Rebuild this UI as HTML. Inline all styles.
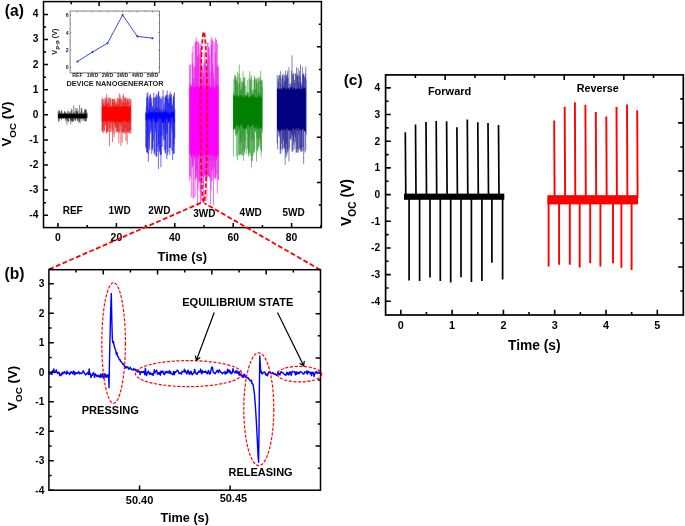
<!DOCTYPE html>
<html><head><meta charset="utf-8"><title>Figure</title>
<style>html,body{margin:0;padding:0;background:#fff}svg{display:block}</style></head>
<body><svg width="685" height="526" viewBox="0 0 685 526">
<rect width="685" height="526" fill="#fff"/>
<g id="panelA">
<path d="M58.2 110.47V118.61M58.62 113.1V121.58M59.04 111.55V121.58M59.46 110.27V118.52M59.88 111.17V118.14M60.3 113.34V118.34M60.72 112.75V118.6M61.14 113.93V119.03M61.56 109.97V120.22M61.98 111.39V118.07M62.4 114.05V118.19M62.82 112.75V118.07M63.24 113.18V118.22M63.66 113.44V118.65M64.08 113.64V118.13M64.5 110.93V118.15M64.92 111.57V118.06M65.34 112.23V119.58M65.76 113.11V121.37M66.18 113.22V119.31M66.6 112.98V119.23M67.02 113.83V124.79M67.44 111.26V121.09M67.86 113.56V118.06M68.28 110.79V121.79M68.7 113.99V121.8M69.12 113.25V118.34M69.54 112.49V118.13M69.96 112.53V118.73M70.38 111.16V120.89M70.8 113.77V124.38M71.22 113.95V120.36M71.64 108.57V121.53M72.06 110.17V119.69M72.48 113.99V122.17M72.9 112.87V121.22M73.32 113.84V121.45M73.74 105.46V118.9M74.16 114.05V120.55M74.58 111.49V119.16M75 113.66V118.16M75.42 113.88V121.41M75.84 107.97V120.04M76.26 110.82V118.07M76.68 111.05V118.18M77.1 108.16V118.11M77.52 112.07V120.87M77.94 110.31V121.15M78.36 113.37V119.32M78.78 114.05V122.45M79.2 113.46V118.07M79.62 104.95V121.85M80.04 112.78V123.39M80.46 112.56V118.87M80.88 113.91V118.23M81.3 108.02V119.28M81.72 108.33V118.3M82.14 111.35V121.16M82.56 113.11V119.08M82.98 114.05V118.07M83.4 114.04V119.25M83.82 111.75V120.53M84.24 113.28V118.07M84.66 109.39V121.45M85.08 110.49V118.78M85.5 108.82V121.01M85.92 109.95V120.81M86.34 109.85V121.58M86.76 113.98V118.1M87.18 112.52V118.07" fill="none" stroke="#000" stroke-width="0.5"/>
<polygon points="58,114.22 58.7,113.71 59.4,113.93 60.1,113.8 60.8,114.25 61.5,113.66 62.2,113.72 62.9,113.97 63.6,114.14 64.3,113.6 65,114.31 65.7,113.57 66.4,114.15 67.1,114.3 67.8,113.98 68.5,114.14 69.2,114.15 69.9,114.1 70.6,113.66 71.3,113.81 72,113.53 72.7,114.23 73.4,113.75 74.1,113.58 74.8,113.66 75.5,114.08 76.2,113.62 76.9,113.92 77.6,114.3 78.3,113.69 79,114.19 79.7,113.76 80.4,114.03 81.1,113.92 81.8,113.91 82.5,113.93 83.2,114.29 83.9,113.54 84.6,114.01 85.3,113.92 86,113.71 86.7,113.64 86.7,117.98 86,118.2 85.3,118.51 84.6,117.94 83.9,118.23 83.2,118.31 82.5,117.84 81.8,118.09 81.1,118.36 80.4,118.13 79.7,118.29 79,118.2 78.3,118.11 77.6,117.99 76.9,118.23 76.2,118.41 75.5,118.23 74.8,118.29 74.1,118.11 73.4,118.32 72.7,118.05 72,118.42 71.3,117.95 70.6,118.21 69.9,117.83 69.2,118.14 68.5,117.98 67.8,118.17 67.1,117.97 66.4,118.11 65.7,118.08 65,118.2 64.3,117.84 63.6,118.48 62.9,118.32 62.2,117.82 61.5,118.12 60.8,117.84 60.1,118.37 59.4,118.13 58.7,118 58,118.41" fill="#000"/>
<path d="M102 97.41V131.11M102.42 99.34V131.7M102.84 102.72V131.73M103.26 99.38V133.3M103.68 104.14V129.03M104.1 98.67V129.77M104.52 105.06V131.44M104.94 101.16V121.46M105.36 97.61V124.88M105.78 98.23V124.8M106.2 103.38V133.37M106.62 93.93V133.26M107.04 99.46V131.96M107.46 103.39V131.34M107.88 99.06V131.39M108.3 97.04V132.31M108.72 102.4V121.6M109.14 105.84V128.54M109.56 97.66V146.09M109.98 103.42V127.97M110.4 98.09V131.77M110.82 98.74V121.39M111.24 106.23V131.71M111.66 105.67V123.37M112.08 98.89V128.63M112.5 99.13V142.13M112.92 98.78V131.08M113.34 102.69V121.99M113.76 99.12V133.97M114.18 99.3V137.28M114.6 101.22V124.42M115.02 98.4V126.2M115.44 103.05V127.94M115.86 104.82V132.5M116.28 100.57V127.72M116.7 103.25V132.23M117.12 106.15V131.36M117.54 97.71V131M117.96 98.15V132.57M118.38 103.31V131.81M118.8 98.86V143.23M119.22 93.38V123.54M119.64 99.38V133.17M120.06 95.06V131.23M120.48 98.26V125.77M120.9 106.43V146M121.32 99.69V123.54M121.74 98.38V132.65M122.16 102.55V142.52M122.58 102.77V131.77M123 95.86V132.26M123.42 93.74V131.39M123.84 99.92V133.84M124.26 102.83V132.26M124.68 97.77V132.48M125.1 96.64V133.1M125.52 97.97V128.36M125.94 101.39V140.79M126.36 103.24V133.85M126.78 98.06V132.61M127.2 98.55V144.42M127.62 100V131.58M128.04 98.6V130.75M128.46 101.9V131.76M128.88 98.88V132.93M129.3 107V133.69M129.72 98.2V133.16M130.14 104.96V131.01M130.56 100.58V130.04M130.98 99.03V133.53" fill="none" stroke="#e01010" stroke-width="0.6"/>
<polygon points="101.8,105.95 102.5,107.53 103.2,106.17 103.9,106.46 104.6,106.57 105.3,106.61 106,106.88 106.7,106.36 107.4,105.97 108.1,106.85 108.8,107.57 109.5,106.82 110.2,106.97 110.9,106.71 111.6,107.22 112.3,107.06 113,106.74 113.7,106.45 114.4,106.06 115.1,106.34 115.8,106.29 116.5,107.01 117.2,105.94 117.9,106.31 118.6,106.82 119.3,106.77 120,106.75 120.7,107.01 121.4,106.05 122.1,106.64 122.8,106.36 123.5,107.24 124.2,106.4 124.9,106.04 125.6,106.03 126.3,105.95 127,106.75 127.7,106.49 128.4,107.09 129.1,106.73 129.8,106.54 130.5,106.19 130.5,122 129.8,120.4 129.1,122.51 128.4,120.73 127.7,121.66 127,121.49 126.3,121.95 125.6,120.98 124.9,120.87 124.2,120.62 123.5,121.01 122.8,121.41 122.1,122.48 121.4,121.35 120.7,122.39 120,122.26 119.3,122.49 118.6,121.52 117.9,121.97 117.2,120.61 116.5,122.63 115.8,122.16 115.1,122.44 114.4,122.17 113.7,120.66 113,122.67 112.3,120.55 111.6,120.27 110.9,121.59 110.2,122.41 109.5,121 108.8,120.28 108.1,120.87 107.4,121.55 106.7,122.66 106,121.18 105.3,120.6 104.6,121.71 103.9,120.97 103.2,122.02 102.5,120.42 101.8,122.55" fill="#f00"/>
<path d="M145.8 112.2V147.23M146.22 106.46V148.41M146.64 97.62V152.36M147.06 93.1V151.86M147.48 95.69V152.81M147.9 92.3V153.76M148.32 108.4V161.88M148.74 98.58V138.12M149.16 102.54V147.5M149.58 96.33V150.27M150 94.98V120.42M150.42 93.87V133.64M150.84 97.05V128.6M151.26 102.93V130.84M151.68 98.5V153.9M152.1 109.79V149.19M152.52 105.96V147.89M152.94 107.81V151.09M153.36 97.8V140.7M153.78 92.65V122.26M154.2 97.69V154.88M154.62 108.8V153.02M155.04 96.93V127.89M155.46 97.29V132.24M155.88 106.43V155.82M156.3 96.11V156.29M156.72 93.93V156.8M157.14 94.5V151.85M157.56 107.68V120.64M157.98 97.22V147.36M158.4 91.09V169.15M158.82 91.86V144.25M159.24 108.42V151.91M159.66 96.2V150.17M160.08 97.74V154.35M160.5 110.22V154.68M160.92 99.12V167.33M161.34 98.6V155.11M161.76 108.93V136.2M162.18 96.3V146.95M162.6 111.4V120.65M163.02 89.98V135.29M163.44 108.16V140.58M163.86 96.85V129.15M164.28 103.7V150.54M164.7 110.54V139.01M165.12 96.75V152.84M165.54 96.79V153.6M165.96 95.2V149.25M166.38 95.2V132.52M166.8 94.28V159.28M167.22 90.42V133.92M167.64 98.7V155.35M168.06 95.33V152.28M168.48 103.08V122.97M168.9 98.42V121.59M169.32 94.21V147.88M169.74 98.09V154.86M170.16 91.84V147.27M170.58 96.11V147.94M171 94.01V129M171.42 94.54V124.14M171.84 102.54V150.66M172.26 106.67V132.29M172.68 104.74V159.95M173.1 97.84V154.1M173.52 96.08V153.03M173.94 94.36V144.35M174.36 92.24V153.75M174.78 109V138.32" fill="none" stroke="#0808e6" stroke-width="0.6"/>
<polygon points="145.6,113.7 146.3,113.22 147,112.28 147.7,114.53 148.4,113.63 149.1,110.93 149.8,111.51 150.5,112.23 151.2,112.25 151.9,112.66 152.6,112.12 153.3,111.8 154,113.47 154.7,111.4 155.4,111.94 156.1,111.96 156.8,113.13 157.5,112.95 158.2,111.36 158.9,114.08 159.6,111.04 160.3,112.28 161,112.72 161.7,113.29 162.4,112.44 163.1,112.08 163.8,111.44 164.5,112.12 165.2,111.42 165.9,111.26 166.6,111.96 167.3,111.53 168,113.53 168.7,111.45 169.4,114.25 170.1,113.07 170.8,113.5 171.5,111.38 172.2,112.32 172.9,111.94 173.6,111.35 174.3,112.72 174.3,123.37 173.6,123.25 172.9,118.68 172.2,116.67 171.5,116.67 170.8,121.76 170.1,117.42 169.4,121.98 168.7,123.31 168,116.8 167.3,120.39 166.6,117.84 165.9,120.36 165.2,123.14 164.5,117.5 163.8,123.32 163.1,122.88 162.4,122.71 161.7,120.47 161,119.07 160.3,118.47 159.6,119.42 158.9,117.88 158.2,117.04 157.5,122.93 156.8,121.98 156.1,122.83 155.4,122.53 154.7,119.68 154,116.57 153.3,120.51 152.6,116.81 151.9,121.57 151.2,122.46 150.5,117.41 149.8,119.7 149.1,119.66 148.4,118 147.7,122.24 147,116.82 146.3,120.6 145.6,120.18" fill="#00f"/>
<path d="M189.6 64.86V180.58M190.02 83.74V175.96M190.44 64.37V155.11M190.86 84.23V177.5M191.28 85.82V197.22M191.7 86.6V158.5M192.12 52.96V166.43M192.54 63.41V167.43M192.96 46.16V198.28M193.38 78.55V164.66M193.8 66.29V198.67M194.22 82.29V159.42M194.64 66.81V155.92M195.06 43.15V196.79M195.48 41.63V180.09M195.9 67.6V176.6M196.32 37.52V170.77M196.74 41.82V178.62M197.16 41.1V177.94M197.58 56.02V205.91M198 57.68V189.48M198.42 41.41V158.47M198.84 43.08V181.33M199.26 87.65V183.08M199.68 54.2V180.35M200.1 43.42V191.9M200.52 47.9V203.24M200.94 64.75V155.57M201.36 44.57V200.61M201.78 79.72V178.58M202.2 67.65V175.62M202.62 65.71V177.15M203.04 76.67V188.19M203.46 73.28V198.93M203.88 62.58V175.49M204.3 51.46V175.58M204.72 62.97V176.61M205.14 84.69V177.33M205.56 62.27V175.08M205.98 75.21V179.89M206.4 67.72V175.89M206.82 69.52V200.92M207.24 42.38V177.66M207.66 62.22V176.43M208.08 42.32V175.99M208.5 47.18V175.94M208.92 84.81V176.24M209.34 46.96V177.41M209.76 55.13V178.3M210.18 72.42V161.65M210.6 87.36V204.07M211.02 39.21V190.55M211.44 44.44V181.4M211.86 36.91V170.63M212.28 40.16V180.67M212.7 65.27V169.24M213.12 40.82V159.95M213.54 73.13V205.05M213.96 78.79V176.96M214.38 87.48V167.71M214.8 42.29V178.71M215.22 52.74V179.34M215.64 37.59V177.16M216.06 82.21V178.09M216.48 39.66V160.14M216.9 64.74V174.34M217.32 43.48V193.56M217.74 67.18V155.52M218.16 85.29V179.85M218.58 66.27V180" fill="none" stroke="#ea08ea" stroke-width="0.6"/>
<polygon points="189.4,88.25 190.1,87.47 190.8,89.07 191.5,84.93 192.2,85.67 192.9,86.78 193.6,88.56 194.3,88.35 195,85.36 195.7,85.5 196.4,87.89 197.1,85.83 197.8,85.11 198.5,86.45 199.2,86.93 199.9,87.09 200.6,84.85 201.3,86.73 202,84.97 202.7,85.1 203.4,86.92 204.1,86.48 204.8,88.61 205.5,85.44 206.2,89.17 206.9,88.03 207.6,87.1 208.3,84.54 209,87.39 209.7,86.32 210.4,87.66 211.1,87.83 211.8,84.99 212.5,89.1 213.2,85.67 213.9,88.24 214.6,88.53 215.3,89.19 216,85.03 216.7,85.82 217.4,89.31 218.1,84.69 218.1,157.09 217.4,154.65 216.7,158.02 216,158 215.3,156.7 214.6,155.51 213.9,154.86 213.2,156.29 212.5,154.35 211.8,153.71 211.1,156.01 210.4,156.95 209.7,154.59 209,154.22 208.3,154.18 207.6,154.92 206.9,155.89 206.2,156.35 205.5,153.42 204.8,154.73 204.1,155.37 203.4,155.28 202.7,157.46 202,156.08 201.3,154.71 200.6,157.55 199.9,153.65 199.2,154.1 198.5,156.57 197.8,153.64 197.1,157.49 196.4,156.35 195.7,154.17 195,157.25 194.3,157.86 193.6,153.74 192.9,154.59 192.2,154.32 191.5,157.22 190.8,155.22 190.1,153.98 189.4,153.72" fill="#f0f"/>
<path d="M233.4 92.83V156.35M233.82 79.33V130.93M234.24 95.26V127.52M234.66 75.8V126.16M235.08 74.2V129.21M235.5 76.7V133.82M235.92 79.56V135.94M236.34 80.38V156.6M236.76 76.9V134.18M237.18 81.53V134.73M237.6 71.97V160.31M238.02 84.53V130.42M238.44 95.63V154.45M238.86 73.57V131.58M239.28 93.95V155.96M239.7 83.08V154.6M240.12 77.05V143.06M240.54 90.1V154.57M240.96 78.73V153.7M241.38 88.81V141.87M241.8 82.28V155.41M242.22 86.61V155.65M242.64 81.58V154.55M243.06 71.2V137.06M243.48 81.75V160.64M243.9 77.26V150.49M244.32 78V152.44M244.74 76.97V154.8M245.16 95.47V141.11M245.58 85.61V149.47M246 94.62V127.26M246.42 95.21V126.04M246.84 92.14V153.78M247.26 79.92V133.36M247.68 91.59V147.92M248.1 96.59V149.88M248.52 92.86V156.67M248.94 78.85V154.19M249.36 95.68V153.57M249.78 71.12V151.9M250.2 77.15V138.24M250.62 80.32V156.14M251.04 91.18V130.43M251.46 75.19V167.35M251.88 79.69V160.92M252.3 93.2V160.85M252.72 90.28V140.12M253.14 93.62V155.64M253.56 89.12V152.18M253.98 79.77V127.62M254.4 75.71V152.87M254.82 77.87V150.07M255.24 79.48V131.52M255.66 89.18V132.16M256.08 77.94V129.54M256.5 79.55V161.63M256.92 83.28V138.56M257.34 77.72V151.19M257.76 91.93V150.68M258.18 81.92V148.11M258.6 78.78V145.93M259.02 76.54V137.69M259.44 93V138.9M259.86 80.7V147.45M260.28 77.56V143.73M260.7 70.89V149.52M261.12 79.91V156.62M261.54 80.35V151.45M261.96 87.39V127.73M262.38 80.84V132.64" fill="none" stroke="#008000" stroke-width="0.5"/>
<polygon points="233.2,95.66 233.9,94.98 234.6,95.2 235.3,97.98 236,94.4 236.7,94.57 237.4,96.26 238.1,95.97 238.8,98.05 239.5,97 240.2,95.1 240.9,94.98 241.6,95.68 242.3,98.09 243,97.28 243.7,94.25 244.4,96.97 245.1,95.99 245.8,97.3 246.5,95.39 247.2,94.6 247.9,96.68 248.6,97.53 249.3,96.92 250,98.09 250.7,96.78 251.4,94.89 252.1,96.86 252.8,95.34 253.5,94.28 254.2,95.16 254.9,98.03 255.6,96.66 256.3,98.06 257,97.39 257.7,97.33 258.4,94.46 259.1,96.75 259.8,96.04 260.5,97.68 261.2,94.98 261.9,97.96 261.9,129.31 261.2,128.81 260.5,128.16 259.8,128.32 259.1,125.87 258.4,129.29 257.7,128.21 257,129.37 256.3,124.08 255.6,127.17 254.9,128.39 254.2,128.73 253.5,123.94 252.8,124.14 252.1,126.61 251.4,126.61 250.7,125.61 250,127.75 249.3,127.32 248.6,124.19 247.9,124.77 247.2,125.55 246.5,129.43 245.8,129.29 245.1,127.75 244.4,129.4 243.7,128.89 243,125.06 242.3,128.88 241.6,124.54 240.9,124.61 240.2,124.74 239.5,129.14 238.8,125.07 238.1,127.15 237.4,125.24 236.7,124.47 236,127.58 235.3,126.52 234.6,129.18 233.9,129.29 233.2,128.13" fill="#008000"/>
<path d="M277.2 75.05V143.34M277.62 88.71V149.42M278.04 78.49V128.97M278.46 82.01V132.36M278.88 75.64V135.64M279.3 74.66V137.17M279.72 88.22V133.35M280.14 75.84V153.92M280.56 71.19V149.77M280.98 83.68V153.7M281.4 89.19V129.28M281.82 78.68V143.71M282.24 75.42V148.13M282.66 75.24V150.42M283.08 73.84V137.03M283.5 85.57V141.09M283.92 76.56V148.35M284.34 81.04V149.2M284.76 74.3V147.11M285.18 81.52V164.74M285.6 70.46V152.77M286.02 75.32V157.62M286.44 75.33V143.53M286.86 78.17V155.52M287.28 73.65V149.51M287.7 70.67V152.67M288.12 77.86V151.14M288.54 87.9V129.23M288.96 67.22V161.46M289.38 88.78V148.46M289.8 84.06V129.49M290.22 83.16V138.44M290.64 86.64V139.56M291.06 87.35V139.44M291.48 70.78V133.57M291.9 82.3V151.36M292.32 86.07V136.35M292.74 74.19V151.95M293.16 74.53V150.1M293.58 73.2V141.09M294 88.9V144.89M294.42 79.86V134.67M294.84 82.8V149.17M295.26 73.4V137.08M295.68 73.64V142.08M296.1 88.49V152.83M296.52 67.38V152.38M296.94 75.98V131.37M297.36 73.98V149.09M297.78 76.11V152.48M298.2 67.83V152.68M298.62 81.91V134.66M299.04 75.21V149.89M299.46 70.62V148.06M299.88 89.17V128.86M300.3 76.79V149.47M300.72 84.74V151.7M301.14 81.94V151.72M301.56 86.79V148.84M301.98 84.3V151.4M302.4 66.74V130.07M302.82 75.22V151.11M303.24 73.85V147.4M303.66 73.12V164.13M304.08 75.78V130.25M304.5 77.1V128.87M304.92 88.74V152.63M305.34 73.61V130.15M305.76 66.43V150.95M306.18 78.63V134.59" fill="none" stroke="#000080" stroke-width="0.5"/>
<polygon points="277,87.86 277.7,88.79 278.4,90.25 279.1,88.84 279.8,89.13 280.5,89.43 281.2,88.05 281.9,88.63 282.6,89.67 283.3,87.83 284,87.83 284.7,87.71 285.4,89.97 286.1,87.83 286.8,89.97 287.5,88.34 288.2,87.39 288.9,89.65 289.6,89.17 290.3,87.51 291,88.31 291.7,87.83 292.4,90.17 293.1,88.44 293.8,88.48 294.5,87.6 295.2,89.9 295.9,89.31 296.6,88.8 297.3,89.62 298,88.15 298.7,87.91 299.4,89.25 300.1,88.38 300.8,89.12 301.5,89.87 302.2,90.09 302.9,88 303.6,87.3 304.3,87.3 305,88.23 305.7,88.91 305.7,131.13 305,131.4 304.3,131.41 303.6,128.36 302.9,129.08 302.2,129.2 301.5,131.92 300.8,129.04 300.1,128.65 299.4,131.47 298.7,127.28 298,127.26 297.3,131.29 296.6,127.86 295.9,128.13 295.2,130.33 294.5,129.68 293.8,127.63 293.1,128.64 292.4,128.91 291.7,131.81 291,130.5 290.3,129.63 289.6,131.61 288.9,130.3 288.2,129.98 287.5,128.58 286.8,128.13 286.1,129.31 285.4,130.98 284.7,128.79 284,130.44 283.3,128.46 282.6,129.82 281.9,130.42 281.2,129.16 280.5,130.99 279.8,130.84 279.1,130.79 278.4,130.33 277.7,128.44 277,131.08" fill="#000080"/>
<path d="M239.3 64.6V114.8" stroke-width="0.5" fill="none" stroke="#008000"/>
<path d="M292 55.31V114.8M300.5 64.6V114.8" stroke-width="0.5" fill="none" stroke="#000080"/>
<rect x="43.5" y="1.6" width="277.9" height="226" fill="none" stroke="#000" stroke-width="1.5"/>
<path d="M58 227.6v-4.5M87.2 227.6v-2.6M116.4 227.6v-4.5M145.6 227.6v-2.6M174.8 227.6v-4.5M204 227.6v-2.6M233.2 227.6v-4.5M262.4 227.6v-2.6M291.6 227.6v-4.5M320.8 227.6v-2.6M43.5 215.2h4.5M43.5 202.65h2.6M43.5 190.1h4.5M43.5 177.55h2.6M43.5 165h4.5M43.5 152.45h2.6M43.5 139.9h4.5M43.5 127.35h2.6M43.5 114.8h4.5M43.5 102.25h2.6M43.5 89.7h4.5M43.5 77.15h2.6M43.5 64.6h4.5M43.5 52.05h2.6M43.5 39.5h4.5M43.5 26.95h2.6M43.5 14.4h4.5M71.29 1.6v2.6M321.4 24.2h-2.6M99.08 1.6v4.5M321.4 46.8h-4.5M126.87 1.6v2.6M321.4 69.4h-2.6M154.66 1.6v4.5M321.4 92h-4.5M182.45 1.6v2.6M321.4 114.6h-2.6M210.24 1.6v4.5M321.4 137.2h-4.5M238.03 1.6v2.6M321.4 159.8h-2.6M265.82 1.6v4.5M321.4 182.4h-4.5M293.61 1.6v2.6M321.4 205h-2.6" stroke="#000" stroke-width="1.5" fill="none"/>
<g font-family="Liberation Sans, Arial, Helvetica, sans-serif" font-weight="bold" fill="#000">
<text x="58" y="240.8" font-size="10.4" text-anchor="middle" >0</text>
<text x="116.4" y="240.8" font-size="10.4" text-anchor="middle" >20</text>
<text x="174.8" y="240.8" font-size="10.4" text-anchor="middle" >40</text>
<text x="233.2" y="240.8" font-size="10.4" text-anchor="middle" >60</text>
<text x="291.6" y="240.8" font-size="10.4" text-anchor="middle" >80</text>
<text x="38.4" y="218.1" font-size="10.2" text-anchor="end" >-4</text>
<text x="38.4" y="193" font-size="10.2" text-anchor="end" >-3</text>
<text x="38.4" y="167.9" font-size="10.2" text-anchor="end" >-2</text>
<text x="38.4" y="142.8" font-size="10.2" text-anchor="end" >-1</text>
<text x="38.4" y="117.7" font-size="10.2" text-anchor="end" >0</text>
<text x="38.4" y="92.6" font-size="10.2" text-anchor="end" >1</text>
<text x="38.4" y="67.5" font-size="10.2" text-anchor="end" >2</text>
<text x="38.4" y="42.4" font-size="10.2" text-anchor="end" >3</text>
<text x="38.4" y="17.3" font-size="10.2" text-anchor="end" >4</text>
<text x="182.3" y="260.9" font-size="13" text-anchor="middle" >Time (s)</text>
<text transform="translate(10.8,124) rotate(-90)" font-size="13.4" text-anchor="middle">V<tspan font-size="9.78" dy="5.09">OC</tspan><tspan dy="-5.09"> (V)</tspan></text>
<text x="4.8" y="16.3" font-size="15.6" text-anchor="start" >(a)</text>
<text x="72.7" y="213.6" font-size="10" text-anchor="middle" >REF</text>
<text x="119.6" y="213.6" font-size="10" text-anchor="middle" >1WD</text>
<text x="159.3" y="214.4" font-size="10" text-anchor="middle" >2WD</text>
<text x="204.3" y="216.6" font-size="10" text-anchor="middle" >3WD</text>
<text x="250.7" y="216" font-size="10" text-anchor="middle" >4WD</text>
<text x="293.5" y="216" font-size="10" text-anchor="middle" >5WD</text>
</g>
<rect x="70.1" y="11.0" width="89.4" height="61.9" fill="#fff" stroke="#777" stroke-width="0.9"/>
<polyline points="77.4,61.6 92.5,52 107.5,43.2 122.6,15.1 137.4,36.4 152.5,38.2" fill="none" stroke="#2030f0" stroke-width="0.9"/>
<circle cx="77.4" cy="61.6" r="1.05" fill="#2030f0"/>
<circle cx="92.5" cy="52" r="1.05" fill="#2030f0"/>
<circle cx="107.5" cy="43.2" r="1.05" fill="#2030f0"/>
<circle cx="122.6" cy="15.1" r="1.05" fill="#2030f0"/>
<circle cx="137.4" cy="36.4" r="1.05" fill="#2030f0"/>
<circle cx="152.5" cy="38.2" r="1.05" fill="#2030f0"/>
<path d="M77.4 72.9v-1.3M77.4 11.0v1.3M92.5 72.9v-1.3M92.5 11.0v1.3M107.5 72.9v-1.3M107.5 11.0v1.3M122.6 72.9v-1.3M122.6 11.0v1.3M137.4 72.9v-1.3M137.4 11.0v1.3M152.5 72.9v-1.3M152.5 11.0v1.3M84.95 72.9v-0.8M84.95 11.0v0.8M100 72.9v-0.8M100 11.0v0.8M115.05 72.9v-0.8M115.05 11.0v0.8M130 72.9v-0.8M130 11.0v0.8M144.95 72.9v-0.8M144.95 11.0v0.8M70.1 15h1.3M159.5 15h-1.3M70.1 32.7h1.3M159.5 32.7h-1.3M70.1 50.3h1.3M159.5 50.3h-1.3M70.1 67.3h1.3M159.5 67.3h-1.3M70.1 23.8h0.8M159.5 23.8h-0.8M70.1 41.5h0.8M159.5 41.5h-0.8M70.1 58.8h0.8M159.5 58.8h-0.8" stroke="#000" stroke-width="0.4" fill="none"/>
<g font-family="Liberation Sans, Arial, Helvetica, sans-serif" font-weight="bold" fill="#222">
<text x="77.4" y="77.2" font-size="5.2" text-anchor="middle" >REF</text>
<text x="92.5" y="77.2" font-size="5.2" text-anchor="middle" >1WD</text>
<text x="107.5" y="77.2" font-size="5.2" text-anchor="middle" >2WD</text>
<text x="122.6" y="77.2" font-size="5.2" text-anchor="middle" >3WD</text>
<text x="137.4" y="77.2" font-size="5.2" text-anchor="middle" >4WD</text>
<text x="152.5" y="77.2" font-size="5.2" text-anchor="middle" >5WD</text>
<text x="68.6" y="16.8" font-size="5.2" text-anchor="end" >6</text>
<text x="68.6" y="34.5" font-size="5.2" text-anchor="end" >4</text>
<text x="68.6" y="52.1" font-size="5.2" text-anchor="end" >2</text>
<text x="68.6" y="69.1" font-size="5.2" text-anchor="end" >0</text>
<text x="115" y="86.2" font-size="7.35" text-anchor="middle" >DEVICE NANOGENERATOR</text>
<text transform="translate(56.8,41.6) rotate(-90)" font-size="7.3" text-anchor="middle">V<tspan font-size="6.13" dy="1.75">p-p</tspan><tspan dy="-1.75"> (V)</tspan></text>
</g>
<g fill="none" stroke="#f00" stroke-width="1.8" stroke-dasharray="4.9 2.4">
<ellipse cx="203.8" cy="117.2" rx="3.3" ry="85.2" stroke-width="1.7" stroke-dasharray="4.4 2.2"/>
<path d="M49.2 269.3L203.8 201.6M320.3 269.9L204.4 203.2"/>
</g>
</g>
<g id="panelB">
<polyline points="49,373.92 49.6,372.02 50.2,374.08 50.8,372.67 51.4,374.06 52,374.35 52.6,370.65 53.2,370.96 53.8,368.92 54.4,372.49 55,372.43 55.6,372.38 56.2,369.87 56.8,371.4 57.4,373.26 58,373.24 58.6,372.23 59.2,372.68 59.8,375.69 60.4,374.13 61,375.27 61.6,374.74 62.2,372.36 62.8,373.93 63.4,372.15 64,372.87 64.6,371.65 65.2,373.02 65.8,372.86 66.4,374.08 67,371.04 67.6,373.38 68.2,372.8 68.8,372.86 69.4,374.51 70,373.91 70.6,372.04 71.2,371.74 71.8,372.88 72.4,372.26 73,374.15 73.6,370.88 74.2,371.95 74.8,374.77 75.4,373.39 76,372.49 76.6,373.55 77.2,373.05 77.8,373.44 78.4,371.79 79,371.93 79.6,373.84 80.2,373.39 80.8,372.97 81.4,373.64 82,372.89 82.6,372.61 83.2,370.6 83.8,371.64 84.4,373.31 85,374.11 85.6,374.93 86.2,374.29 86.8,373.22 87.4,373.68 88,372.3 88.6,374.41 89.2,368.85 89.8,374.33 90.4,373.63 91,377.6 91.6,375.29 92.2,375.48 92.8,374.02 93.4,372.56 94,374.67 94.6,377.44 95.2,373.82 95.8,374.45 96.4,375.56 97,376.64 97.6,375.34 98.2,375.26 98.8,376.86 99.4,375.94 100,377.35 100.6,374.25 101.2,377.13 101.8,376.24 102.4,373.67 103,377.26 103.6,378.25 104.2,376.82 104.8,373.62 105.4,374.37 106,377.6 106.6,376.14 107.2,374.92 107.8,377.15 108.4,374.81 108.6,375.25 109,387.64 109.5,360.5 110.5,316.25 111.3,293.54 111.8,319.2 112.3,338.38 112.9,342.8 113.5,341.62 114.1,345.75 115.2,349.25 115.8,350.52 116.4,354.39 117,352.75 117.6,356.31 118.2,356.68 118.8,358.1 119.4,359.87 120,359.6 120.6,361.29 121.2,361.63 121.8,362.74 122.4,363.09 123,364.37 123.6,364.1 124.2,365.94 124.8,366.14 125.4,368.11 126,366.4 126.6,367.68 127.2,367.63 127.8,366.8 128.4,368.6 129,369.23 129.6,368.93 130.2,367.15 130.8,368.57 131.4,368.98 132,369.82 132.6,369.5 133.2,369.99 133.8,368.5 134.4,369.37 135,370.16 135.6,369.39 136.2,370.95 136.8,369.91 137.4,372.11 138,370.36 138.6,371.67 139.2,371.17 139.8,371.35 140,374.76 140.6,372.64 141.2,371.74 141.8,372.3 142.4,371.69 143,372.54 143.6,371.36 144.2,371.59 144.8,374.73 145.4,368.12 146,373.96 146.6,375.56 147.2,373.01 147.8,372.23 148.4,371 149,372.9 149.6,374.36 150.2,372.77 150.8,374.14 151.4,373.49 152,374.78 152.6,373.5 153.2,375.33 153.8,372.92 154.4,369.8 155,372.75 155.6,371.3 156.2,370.89 156.8,370.33 157.4,374.08 158,373.85 158.6,372.62 159.2,374.37 159.8,372.43 160.4,375.17 161,370.93 161.6,372.82 162.2,372.25 162.8,371.07 163.4,373.04 164,374.62 164.6,374.62 165.2,371.72 165.8,372.11 166.4,372.82 167,371.24 167.6,372.25 168.2,372.97 168.8,371.85 169.4,370.7 170,373.5 170.6,371.6 171.2,373.5 171.8,373.84 172.4,374.48 173,374.25 173.6,371.47 174.2,374.86 174.8,371.78 175.4,372.67 176,371.69 176.6,371.49 177.2,370.15 177.8,370.61 178.4,371.15 179,373.56 179.6,373.58 180.2,372.98 180.8,372.91 181.4,374.18 182,371.33 182.6,371.9 183.2,371.74 183.8,371.56 184.4,369.18 185,372.11 185.6,370.87 186.2,372.57 186.8,373.9 187.4,372.16 188,370.23 188.6,371.88 189.2,374.34 189.8,371.92 190.4,373.81 191,371.11 191.6,372.9 192.2,374.9 192.8,373.89 193.4,373.41 194,372.59 194.6,369.42 195.2,371.42 195.8,373.44 196.4,373.21 197,374.54 197.6,372.66 198.2,372.84 198.8,371.12 199.4,372.08 200,371.91 200.6,369.08 201.2,372.84 201.8,373.82 202.4,370.58 203,372.09 203.6,371.99 204.2,372.3 204.8,372.36 205.4,370.96 206,372.57 206.6,371.91 207.2,373.76 207.8,372.96 208.4,370.49 209,372.14 209.6,374.11 210.2,373.76 210.8,371.15 211.4,368.28 212,366.88 212.6,367.78 213.2,372.39 213.8,372.57 214.4,373.3 215,373.83 215.6,372.55 216.2,372.12 216.8,371.05 217.4,370.3 218,372.06 218.6,372.7 219.2,369.77 219.8,370.71 220.4,371.13 221,372.33 221.6,372.56 222.2,373.8 222.8,373 223.4,372.78 224,372.23 224.6,371.88 225.2,374.09 225.8,371.82 226.4,373.45 227,373.12 227.6,369.12 228.2,371.97 228.8,370.14 229.4,370.2 230,372.72 230.6,371.53 231.2,373.78 231.8,373.5 232.4,372.42 233,368.61 233.6,371.4 234.2,372.08 234.8,372.71 235.4,372.78 236,370.65 236.6,371.07 237.2,373.21 237.8,371.33 238.4,372.27 239,374.83 239.6,371.93 240,375.37 240.6,375 241.2,374.13 241.8,375.99 242.4,377.06 243,375.26 243.6,377.23 244.2,374.28 244.8,374.69 245.4,377.05 246,377.18 246.6,377.15 247.2,377.99 247.8,377.56 248.4,378.29 249,379.38 249.6,379.49 250.2,380.87 250.8,381.02 251.4,380.18 252,383.61 252.6,383.45 253.2,385.11 254.4,393.54 255.4,406.23 256.4,422.45 257.3,440.15 258.1,456.38 258.6,462.27 258.95,437.2 259.35,390 259.8,356.07 260.2,363.45 260.7,372.3 261.3,371.18 261.9,373.82 262.5,373.91 263.1,372.54 263.7,372.66 264.3,371.87 264.9,372.34 265.5,374.22 266.1,375.05 266.7,373.98 267.3,375.73 267.9,374.6 268.5,372.16 269.1,372.55 269.7,371.64 270.3,372.17 270.9,373.45 271.5,373.65 272.1,373.22 272.7,372.46 273.3,373 273.9,374.19 274.5,373.87 275.1,374.33 275.7,373.92 276.3,375.49 276.9,374.47 277.5,375.09 278.1,371.43 278.7,374.65 279.3,373.82 279.9,375.06 280.5,372.38 281.1,371.74 281.7,372.67 282.3,372.52 282.9,372.75 283.5,373.2 284.1,374.25 284.7,374.74 285.3,374.69 285.9,375.38 286.5,373.13 287.1,372.26 287.7,374.29 288.3,373.1 288.9,375.03 289.5,372.1 290.1,371.84 290.7,373.49 291.3,375.33 291.9,371.96 292.5,371.32 293.1,371.83 293.7,371.79 294.3,371.64 294.9,372.72 295.5,374.93 296.1,371.76 296.7,374.33 297.3,373.3 297.9,372.12 298.5,372.98 299.1,373.73 299.7,372.1 300.3,371.81 300.9,371.75 301.5,372.57 302.1,372.6 302.7,373.41 303.3,374.16 303.9,374.14 304.5,371.81 305.1,372.17 305.7,372.4 306.3,373.01 306.9,370.59 307.5,373.96 308.1,372.21 308.7,371.44 309.3,372.19 309.9,372.66 310.5,374.12 311.1,372.08 311.7,375.67 312.3,372.84 312.9,372.14 313.5,372.98 314.1,376.57 314.7,374.04 315.3,372.45 315.9,371.91 316.5,371.37 317.1,373.46 317.7,372.84 318.3,372.21 318.9,373.24 319.5,372.04 320.1,373.4" fill="none" stroke="#0000ff" stroke-width="1.4" stroke-linejoin="round"/>
<rect x="48.9" y="269.7" width="271.6" height="220.5" fill="none" stroke="#000" stroke-width="1.5"/>
<path d="M139.57 490.2v-4.6M230.1 490.2v-4.6M48.9 490.3h4.9M48.9 475.55h2.7M48.9 460.8h4.9M48.9 446.05h2.7M48.9 431.3h4.9M48.9 416.55h2.7M48.9 401.8h4.9M48.9 387.05h2.7M48.9 372.3h4.9M48.9 357.55h2.7M48.9 342.8h4.9M48.9 328.05h2.7M48.9 313.3h4.9M48.9 298.55h2.7M48.9 283.8h4.9M48.9 269.05h2.7M76.06 269.7v2.7M320.5 291.75h-2.7M103.22 269.7v4.9M320.5 313.8h-4.9M130.38 269.7v2.7M320.5 335.85h-2.7M157.54 269.7v4.9M320.5 357.9h-4.9M184.7 269.7v2.7M320.5 379.95h-2.7M211.86 269.7v4.9M320.5 402h-4.9M239.02 269.7v2.7M320.5 424.05h-2.7M266.18 269.7v4.9M320.5 446.1h-4.9M293.34 269.7v2.7M320.5 468.15h-2.7" stroke="#000" stroke-width="1.5" fill="none"/>
<g font-family="Liberation Sans, Arial, Helvetica, sans-serif" font-weight="bold" fill="#000">
<text x="139.6" y="503.7" font-size="11" text-anchor="middle" >50.40</text>
<text x="233.4" y="502.3" font-size="11" text-anchor="middle" >50.45</text>
<text x="44.3" y="493.6" font-size="10.2" text-anchor="end" >-4</text>
<text x="44.3" y="464.1" font-size="10.2" text-anchor="end" >-3</text>
<text x="44.3" y="434.6" font-size="10.2" text-anchor="end" >-2</text>
<text x="44.3" y="405.1" font-size="10.2" text-anchor="end" >-1</text>
<text x="44.3" y="375.6" font-size="10.2" text-anchor="end" >0</text>
<text x="44.3" y="346.1" font-size="10.2" text-anchor="end" >1</text>
<text x="44.3" y="316.6" font-size="10.2" text-anchor="end" >2</text>
<text x="44.3" y="287.1" font-size="10.2" text-anchor="end" >3</text>
<text x="184.7" y="522.3" font-size="12.7" text-anchor="middle" >Time (s)</text>
<text transform="translate(17.2,388.3) rotate(-90)" font-size="13.4" text-anchor="middle">V<tspan font-size="9.78" dy="5.09">OC</tspan><tspan dy="-5.09"> (V)</tspan></text>
<text x="4.5" y="279.4" font-size="15.6" text-anchor="start" >(b)</text>
<text x="110.3" y="414.3" font-size="11.05" text-anchor="middle" >PRESSING</text>
<text x="260.6" y="475.8" font-size="11" text-anchor="middle" >RELEASING</text>
<text x="237.8" y="306.2" font-size="11.1" text-anchor="middle" >EQUILIBRIUM STATE</text>
</g>
<g fill="none" stroke="#f00" stroke-width="1.18" stroke-dasharray="3.1 1.55">
<ellipse cx="113.6" cy="343" rx="11.8" ry="60.3"/>
<ellipse cx="188.6" cy="373.6" rx="53.2" ry="13"/>
<ellipse cx="258.8" cy="409.2" rx="15" ry="56.4"/>
<ellipse cx="299.5" cy="374.1" rx="22.3" ry="7.8"/>
</g>
<path d="M214.2 312.5L196.4 360.3M195.35 355.62L196.4 360.3L200.25 357.44" fill="none" stroke="#000" stroke-width="1.2"/>
<path d="M277.5 312.5L303.7 365.8M299.58 363.34L303.7 365.8L304.27 361.03" fill="none" stroke="#000" stroke-width="1.2"/>
</g>
<g id="panelC">
<rect x="404" y="193.6" width="100.3" height="6.2" fill="#000"/>
<path d="M405.3 132.3L405.8 196.5M415.5 124.4L416.0 196.5M426 122.1L426.5 196.5M436.2 121.1L436.7 196.5M446.6 121.3L447.1 196.5M456.9 127.2L457.4 196.5M467.3 119.5L467.8 196.5M477.8 122.3L478.3 196.5M488 123.1L488.5 196.5M498.5 124.9L499.0 196.5M409.1 196.5V280.4M419.6 196.5V280.9M430 196.5V277.5M440.3 196.5V280.9M450.7 196.5V282.4M461 196.5V277.3M471.4 196.5V282.1M481.9 196.5V280.9M491.9 196.5V262.7M502.6 196.5V279.6" stroke="#000" stroke-width="1.7" fill="none"/>
<rect x="547.4" y="195.2" width="90.6" height="9.2" fill="#f00"/>
<path d="M554.2 120.5L554.6 198M564.7 106.8L565.1 198M574.9 102.2L575.3 198M585.4 104.7L585.8 198M595.8 112.1L596.1999999999999 198M606.3 116.5L606.6999999999999 198M616.5 107L616.9 198M627 104.5L627.4 198M637.2 110.3L637.6 198M548.6 198V266.6M559.1 198V264.8M569.8 198V264.8M579.7 198V267.6M590.2 198V263.2M600.4 198V266.6M613 198V263.2M621.4 198V267.8M631.6 198V269.9" stroke="#f00" stroke-width="1.9" fill="none"/>
<rect x="385.6" y="74.9" width="297.7" height="240.1" fill="none" stroke="#000" stroke-width="1.7"/>
<path d="M400.8 315v-5.2M426.45 315v-3.0M452.1 315v-5.2M477.75 315v-3.0M503.4 315v-5.2M529.05 315v-3.0M554.7 315v-5.2M580.35 315v-3.0M606 315v-5.2M631.65 315v-3.0M657.3 315v-5.2M385.6 301.32h5.2M385.6 287.98h3.0M385.6 274.64h5.2M385.6 261.3h3.0M385.6 247.96h5.2M385.6 234.62h3.0M385.6 221.28h5.2M385.6 207.94h3.0M385.6 194.6h5.2M385.6 181.26h3.0M385.6 167.92h5.2M385.6 154.58h3.0M385.6 141.24h5.2M385.6 127.9h3.0M385.6 114.56h5.2M385.6 101.22h3.0M385.6 87.88h5.2M415.37 74.9v3.0M683.3 98.91h-3.0M445.14 74.9v5.2M683.3 122.92h-5.2M474.91 74.9v3.0M683.3 146.93h-3.0M504.68 74.9v5.2M683.3 170.94h-5.2M534.45 74.9v3.0M683.3 194.95h-3.0M564.22 74.9v5.2M683.3 218.96h-5.2M593.99 74.9v3.0M683.3 242.97h-3.0M623.76 74.9v5.2M683.3 266.98h-5.2M653.53 74.9v3.0M683.3 290.99h-3.0" stroke="#000" stroke-width="1.6" fill="none"/>
<g font-family="Liberation Sans, Arial, Helvetica, sans-serif" font-weight="bold" fill="#000">
<text x="400.8" y="328.7" font-size="10.8" text-anchor="middle" >0</text>
<text x="452.1" y="328.7" font-size="10.8" text-anchor="middle" >1</text>
<text x="503.4" y="328.7" font-size="10.8" text-anchor="middle" >2</text>
<text x="554.7" y="328.7" font-size="10.8" text-anchor="middle" >3</text>
<text x="606" y="328.7" font-size="10.8" text-anchor="middle" >4</text>
<text x="657.3" y="328.7" font-size="10.8" text-anchor="middle" >5</text>
<text x="380.1" y="304.62" font-size="10.2" text-anchor="end" >-4</text>
<text x="380.1" y="277.94" font-size="10.2" text-anchor="end" >-3</text>
<text x="380.1" y="251.26" font-size="10.2" text-anchor="end" >-2</text>
<text x="380.1" y="224.58" font-size="10.2" text-anchor="end" >-1</text>
<text x="380.1" y="197.9" font-size="10.2" text-anchor="end" >0</text>
<text x="380.1" y="171.22" font-size="10.2" text-anchor="end" >1</text>
<text x="380.1" y="144.54" font-size="10.2" text-anchor="end" >2</text>
<text x="380.1" y="117.86" font-size="10.2" text-anchor="end" >3</text>
<text x="380.1" y="91.18" font-size="10.2" text-anchor="end" >4</text>
<text x="534.3" y="349.8" font-size="13.8" text-anchor="middle" >Time (s)</text>
<text transform="translate(351,202.5) rotate(-90)" font-size="13.9" text-anchor="middle">V<tspan font-size="10.15" dy="5.28">OC</tspan><tspan dy="-5.28"> (V)</tspan></text>
<text x="343.7" y="85.1" font-size="15.5" text-anchor="start" >(c)</text>
<text x="449.6" y="95.2" font-size="11" text-anchor="middle" >Forward</text>
<text x="597.7" y="91.9" font-size="10.8" text-anchor="middle" >Reverse</text>
</g>
</g>
</svg></body></html>
